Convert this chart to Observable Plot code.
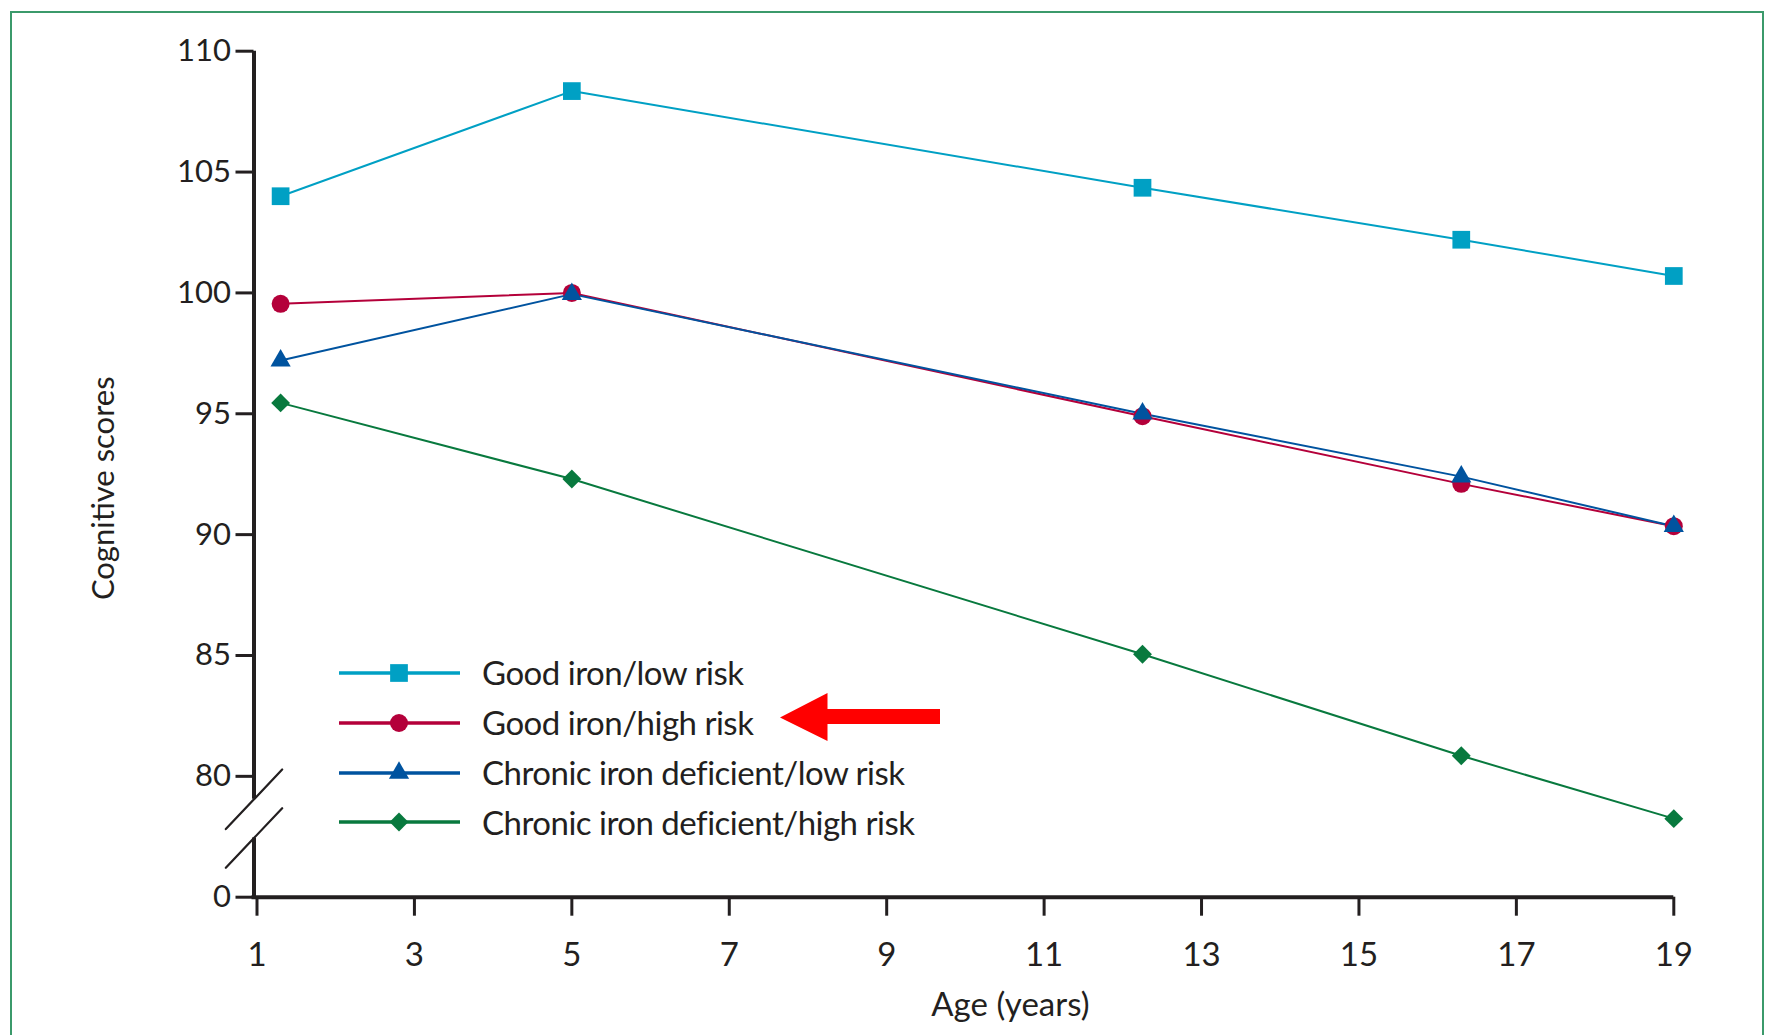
<!DOCTYPE html>
<html>
<head>
<meta charset="utf-8">
<script src="https://cdn.jsdelivr.net/npm/d3@7"></script>
<script src="https://cdn.jsdelivr.net/npm/@observablehq/plot@0.6"></script>
<style>
  html, body { margin: 0; padding: 0; background: #fff; }
  body { width: 1773px; height: 1035px; overflow: hidden; position: relative; font-family: Lato, "Open Sans", sans-serif; color: #231f20; }
  #frame { position: absolute; left: 10px; top: 11px; width: 1754px; height: 1100px; border: 2px solid #3b9a6b; box-sizing: border-box; }
  #chart { position: absolute; left: 0; top: 0; }
  #legend { position: absolute; left: 339px; top: 648px; }
  .row { display: flex; align-items: center; height: 49.8px; }
  .row span { font-size: 33px; letter-spacing: -0.5px; margin-left: 22px; white-space: nowrap; line-height: 1; }
  #arrow { position: absolute; left: 780px; top: 693px; }
</style>
</head>
<body>
<div id="frame"></div>
<div id="chart"></div>
<div id="legend"></div>
<svg id="arrow" width="162" height="49"><polygon points="0,24.5 47.5,0 47.5,16 160,16 160,31 47.5,31 47.5,48" fill="#ff0000"/></svg>
<script>
// ---- data ----
const ages = [1.3, 5, 12.25, 16.3, 19];
const seriesNames = [
  "Good iron/low risk",
  "Good iron/high risk",
  "Chronic iron deficient/low risk",
  "Chronic iron deficient/high risk"
];
const goodIronLowRisk = [104.0, 108.35, 104.35, 102.2, 100.7];
const goodIronHighRisk = [99.55, 100.0, 94.9, 92.1, 90.35];
const deficientLowRisk = [97.2, 99.95, 95.0, 92.4, 90.35];
const deficientHighRisk = [95.45, 92.3, 85.05, 80.85, 78.25];
const xTicks = [1, 3, 5, 7, 9, 11, 13, 15, 17, 19];
const yTicks = [75, 80, 85, 90, 95, 100, 105, 110];
const yTickLabels = ["0", "80", "85", "90", "95", "100", "105", "110"];
const axisBreak = [77.45, 79.05]; // y values where the axis is interrupted

// ---- styles ----
const colors = ["#00a0c4", "#b4003a", "#00539f", "#08793e"];
const symbols = ["square", "circle", "triangle", "diamond2"];
const radii = [10, 9, 7.5, 8.5];
const ink = "#231f20";

const values = [goodIronLowRisk, goodIronHighRisk, deficientLowRisk, deficientHighRisk];
const data = seriesNames.flatMap((s, i) => ages.map((a, j) => ({series: s, idx: i, age: a, score: values[i][j]})));

const slash = { draw(context, l) { context.moveTo(0, 0); context.lineTo(0, -l); } };

const lineMarks = seriesNames.map((s, i) =>
  Plot.line(data.filter(d => d.idx === i), {x: "age", y: "score", stroke: colors[i], strokeWidth: 2}));
const dotMarks = seriesNames.map((s, i) =>
  Plot.dot(data.filter(d => d.idx === i), {x: "age", y: "score", fill: colors[i], symbol: symbols[i], r: radii[i], stroke: "none"}));

const chart = Plot.plot({
  width: 1773,
  height: 1035,
  marginLeft: 256.5,
  marginRight: 99.7,
  marginTop: 50.7,
  marginBottom: 138.3,
  style: {fontFamily: "Lato, 'Open Sans', sans-serif", color: ink, background: "transparent"},
  x: {domain: [1, 19]},
  y: {domain: [75, 110]},
  marks: [
    Plot.axisY({ticks: yTicks, tickFormat: d => yTickLabels[yTicks.indexOf(d)], tickSize: 18, tickPadding: 5, fontSize: 31, strokeWidth: 3, dx: -3, label: null, stroke: ink, fill: ink}),
    Plot.axisX({ticks: xTicks, tickFormat: d => String(d), tickSize: 19, tickPadding: 26, fontSize: 33, strokeWidth: 3, label: null, stroke: ink, fill: ink}),
    Plot.ruleX([{y1: axisBreak[1], y2: 110}, {y1: 75, y2: axisBreak[0]}], {x: 1, y1: "y1", y2: "y2", dx: -3, stroke: ink, strokeWidth: 4}),
    Plot.ruleY([75], {stroke: ink, strokeWidth: 4, insetLeft: -5}),
    Plot.vector(axisBreak, {x: 1, y: d => d, length: 82, rotate: 43.4, anchor: "middle", shape: slash, stroke: ink, strokeWidth: 2.2, dx: -3}),
    ...lineMarks,
    ...dotMarks,
    Plot.text(["Cognitive scores"], {frameAnchor: "left", textAnchor: "middle", lineAnchor: "middle", rotate: -90, dx: -153, dy: 14, fontSize: 31, fill: ink}),
    Plot.text(["Age (years)"], {frameAnchor: "bottom", textAnchor: "middle", lineAnchor: "middle", dx: 45, dy: 108, fontSize: 33, fill: ink})
  ]
});
document.getElementById("chart").appendChild(chart);

// ---- legend ----
const legend = d3.select("#legend");
seriesNames.forEach((s, i) => {
  const row = legend.append("div").attr("class", "row");
  const svg = row.append("svg").attr("width", 121).attr("height", 50);
  svg.append("line").attr("x1", 0).attr("x2", 121).attr("y1", 25).attr("y2", 25)
    .attr("stroke", colors[i]).attr("stroke-width", 3.5);
  const sym = {square: d3.symbolSquare, circle: d3.symbolCircle, triangle: d3.symbolTriangle, diamond2: d3.symbolDiamond2}[symbols[i]];
  svg.append("path").attr("transform", "translate(60,25)")
    .attr("d", d3.symbol(sym, Math.PI * radii[i] * radii[i])())
    .attr("fill", colors[i]);
  row.append("span").text(s);
});
</script>
</body>
</html>
